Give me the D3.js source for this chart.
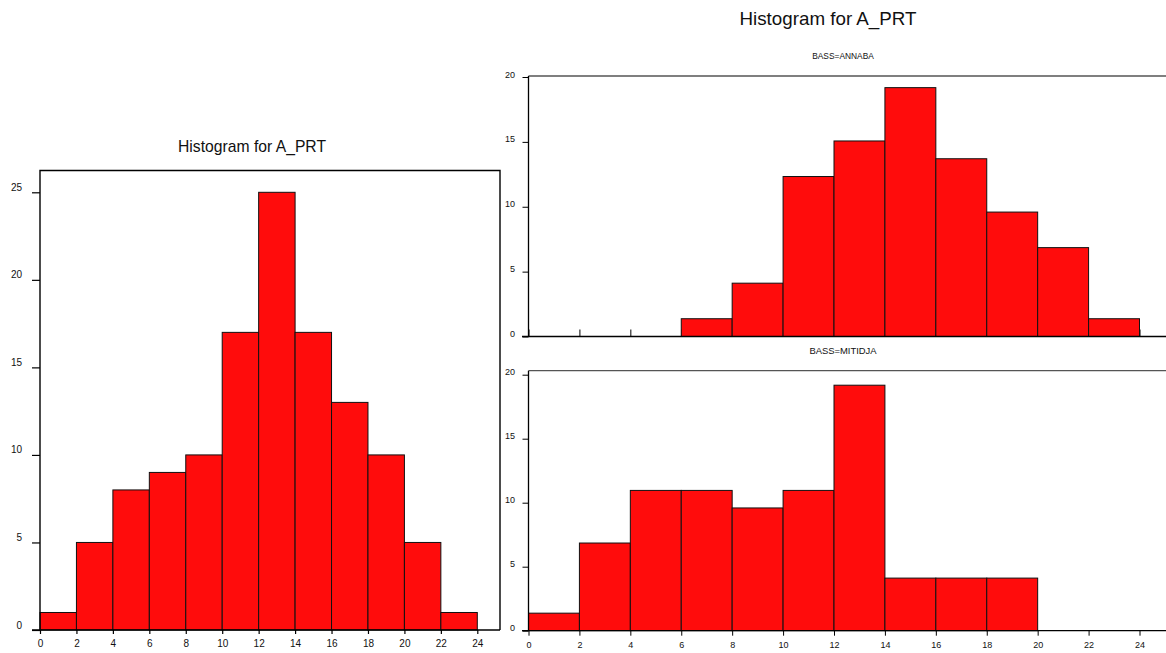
<!DOCTYPE html>
<html>
<head>
<meta charset="utf-8">
<script src="https://cdn.jsdelivr.net/npm/d3@7"></script>
<style>
  html, body { margin: 0; padding: 0; background: #fff; }
  svg { display: block; font-family: "Liberation Sans", Arial, sans-serif; }
</style>
</head>
<body>
<svg id="chart" width="1166" height="653"></svg>
<script>
// ---- data ----
const binStarts = [0, 2, 4, 6, 8, 10, 12, 14, 16, 18, 20, 22];
const binWidth = 2;
const allCounts = [1, 5, 8, 9, 10, 17, 25, 17, 13, 10, 5, 1];
const annabaValues = [0, 0, 0, 1.37, 4.11, 12.33, 15.07, 19.18, 13.70, 9.59, 6.85, 1.37];
const mitidjaValues = [1.37, 6.85, 10.96, 10.96, 9.59, 10.96, 19.18, 4.11, 4.11, 4.11, 0, 0];
const xTicks = [0, 2, 4, 6, 8, 10, 12, 14, 16, 18, 20, 22, 24];
const leftYTicks = [0, 5, 10, 15, 20, 25];
const rightYTicks = [0, 5, 10, 15, 20];
const mainTitle = "Histogram for A_PRT";
const panelTitles = ["BASS=ANNABA", "BASS=MITIDJA"];

const FILL = "#ff0c0c";
const svg = d3.select("#chart");

function drawBars(g, values, x, y) {
  g.selectAll("rect.bar")
    .data(values.map((v, i) => ({ x0: binStarts[i], v })).filter(d => d.v > 0))
    .join("rect")
    .attr("class", "bar")
    .attr("x", d => x(d.x0))
    .attr("width", d => x(d.x0 + binWidth) - x(d.x0))
    .attr("y", d => y(d.v))
    .attr("height", d => y(0) - y(d.v))
    .attr("fill", FILL)
    .attr("stroke", "#111")
    .attr("stroke-width", 1);
}

// ================= LEFT PANEL =================
{
  const x = d3.scaleLinear().domain([0, 24]).range([40, 477.3]);
  const y = d3.scaleLinear().domain([0, 25]).range([630, 192.3]);
  const xMax = x.invert(500);
  const yTop = 170.5;
  const g = svg.append("g");

  svg.append("text")
    .attr("x", 252).attr("y", 152)
    .attr("text-anchor", "middle")
    .attr("font-size", 17)
    .attr("textLength", 148).attr("lengthAdjust", "spacingAndGlyphs")
    .attr("fill", "#111")
    .text(mainTitle);

  drawBars(g, allCounts, x, y);

  // frame
  g.append("path")
    .attr("d", `M${x(0)},${y(0)} L${x(0)},${yTop} L${x(xMax)},${yTop} L${x(xMax)},${y(0)}`)
    .attr("fill", "none").attr("stroke", "#000").attr("stroke-width", 1.4);
  g.append("line")
    .attr("x1", 32).attr("x2", x(xMax)).attr("y1", y(0)).attr("y2", y(0))
    .attr("stroke", "#000").attr("stroke-width", 1.4);

  const ya = g.append("g").attr("transform", `translate(${x(0)},0)`)
    .call(d3.axisLeft(y).tickValues(leftYTicks).tickSize(8).tickPadding(10));
  ya.select(".domain").remove();
  ya.selectAll("line").attr("stroke", "#000").attr("stroke-width", 1.2);
  ya.selectAll("text").attr("font-size", 10).attr("dy", -2).attr("fill", "#111")
    .attr("font-family", "Liberation Sans, Arial, sans-serif");

  const xa = g.append("g").attr("transform", `translate(0,${y(0)})`)
    .call(d3.axisBottom(x).tickValues(xTicks).tickSize(4).tickPadding(6));
  xa.select(".domain").remove();
  xa.selectAll("line").attr("stroke", "#000").attr("stroke-width", 1.2);
  xa.selectAll("text").attr("font-size", 10).attr("fill", "#111")
    .attr("font-family", "Liberation Sans, Arial, sans-serif");
}

// ================= RIGHT PANELS =================
svg.append("text")
  .attr("x", 828).attr("y", 25)
  .attr("text-anchor", "middle")
  .attr("font-size", 19)
  .attr("textLength", 177).attr("lengthAdjust", "spacingAndGlyphs")
  .attr("fill", "#111")
  .text(mainTitle);

const xR = d3.scaleLinear().domain([0, 24]).range([528.5, 1139.5]);

function rightPanel(values, y0, y20, frameTop, title, titleY, showXLabels) {
  const y = d3.scaleLinear().domain([0, 20]).range([y0, y20]);
  const g = svg.append("g");

  svg.append("text")
    .attr("x", 843).attr("y", titleY)
    .attr("text-anchor", "middle")
    .attr("font-size", 9)
    .attr("textLength", title.length * 5.6).attr("lengthAdjust", "spacingAndGlyphs")
    .attr("fill", "#111")
    .text(title);

  // x axis ticks
  let xa;
  if (showXLabels) {
    xa = g.append("g").attr("transform", `translate(0,${y(0)})`)
      .call(d3.axisBottom(xR).tickValues(xTicks).tickSize(5).tickPadding(6));
    xa.selectAll("text").attr("font-size", 9).attr("fill", "#111")
      .attr("font-family", "Liberation Sans, Arial, sans-serif");
  } else {
    xa = g.append("g").attr("transform", `translate(0,${y(0)})`)
      .call(d3.axisBottom(xR).tickValues(xTicks).tickSize(-7).tickFormat(""));
  }
  xa.select(".domain").remove();
  xa.selectAll("line").attr("stroke", "#000").attr("stroke-width", 1);

  drawBars(g, values, xR, y);

  // frame top (grey) and left axis line
  g.append("line")
    .attr("x1", xR(0)).attr("x2", 1170).attr("y1", frameTop).attr("y2", frameTop)
    .attr("stroke", "#555").attr("stroke-width", 1.3);
  g.append("line")
    .attr("x1", xR(0)).attr("x2", xR(0)).attr("y1", frameTop).attr("y2", y(0))
    .attr("stroke", "#000").attr("stroke-width", 1.3);
  g.append("line")
    .attr("x1", 522).attr("x2", 1170).attr("y1", y(0)).attr("y2", y(0))
    .attr("stroke", "#000").attr("stroke-width", 1.3);

  const ya = g.append("g").attr("transform", `translate(${xR(0)},0)`)
    .call(d3.axisLeft(y).tickValues(rightYTicks).tickSize(6).tickPadding(7.5));
  ya.select(".domain").remove();
  ya.selectAll("line").attr("stroke", "#000").attr("stroke-width", 1);
  ya.selectAll("text").attr("font-size", 9).attr("dy", 0).attr("fill", "#111")
    .attr("font-family", "Liberation Sans, Arial, sans-serif");
}

rightPanel(annabaValues, 336.5, 77, 76, panelTitles[0], 59, false);
rightPanel(mitidjaValues, 630.7, 374.7, 370.7, panelTitles[1], 354, true);
</script>
</body>
</html>
